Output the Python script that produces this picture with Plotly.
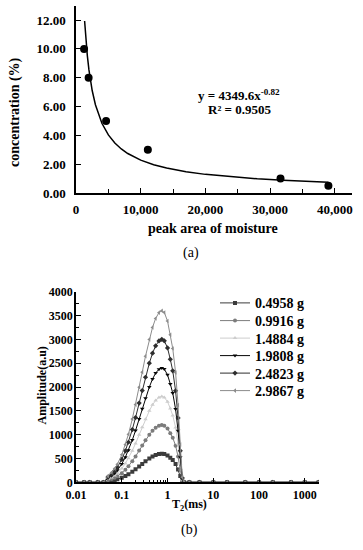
import plotly.graph_objects as go

# ---------------- (a) data ----------------
peak_area = [1250, 1950, 4650, 11100, 31600, 39000]
concentration = [10.0, 8.0, 5.0, 3.0, 1.0, 0.5]
fit_a = 4349.6
fit_b = -0.82
fit_x = [1330, 1500, 1750, 2000, 2500, 3000, 3500, 4000, 5000, 6000, 7000, 8000,
         10000, 12000, 14000, 17000, 20000, 24000, 28000, 32000, 36000, 39000]
fit_y = [fit_a * x ** fit_b for x in fit_x]
a_xticks = [0, 10000, 20000, 30000, 40000]
a_xlabels = ["0", "10,000", "20,000", "30,000", "40,000"]
a_yticks = [0, 2, 4, 6, 8, 10, 12]
a_ylabels = ["0.00", "2.00", "4.00", "6.00", "8.00", "10.00", "12.00"]

# ---------------- (b) data ----------------
t2 = [0.01, 0.015, 0.02, 0.03, 0.04, 0.05, 0.06, 0.07, 0.08, 0.1, 0.12, 0.14, 0.17, 0.2,
      0.24, 0.28, 0.33, 0.4, 0.47, 0.55, 0.65, 0.75, 0.85, 1.0, 1.15, 1.3, 1.5, 1.7,
      1.9, 2.1, 2.3, 3, 5, 10, 20, 50, 100, 200, 500, 1000, 2000]
lead0 = [0, 0, 0, 0, 0]
tail0 = [0, 0, 0, 0, 0, 0, 0, 0, 0, 0]
amp_04958 = lead0 + [22, 34, 48, 63, 96, 132, 168, 221, 272, 332, 385, 441, 500, 542, 573, 593, 600, 594, 564, 516, 468, 384, 270, 132, 18, 0] + tail0
amp_09916 = lead0 + [44, 68, 96, 126, 192, 264, 336, 443, 544, 665, 770, 882, 1000, 1084, 1146, 1187, 1200, 1188, 1128, 1032, 936, 768, 540, 264, 36, 0] + tail0
amp_14884 = lead0 + [67, 103, 144, 189, 288, 396, 504, 664, 815, 997, 1156, 1323, 1499, 1625, 1719, 1780, 1800, 1782, 1692, 1548, 1404, 1152, 810, 396, 54, 0] + tail0
amp_19808 = lead0 + [89, 137, 192, 252, 384, 528, 672, 886, 1087, 1330, 1541, 1764, 1999, 2167, 2292, 2374, 2400, 2376, 2256, 2064, 1872, 1536, 1080, 528, 72, 0] + tail0
amp_24823 = lead0 + [111, 171, 240, 315, 480, 660, 840, 1107, 1359, 1662, 1926, 2205, 2499, 2709, 2865, 2967, 3000, 2970, 2820, 2580, 2340, 1920, 1350, 660, 90, 0] + tail0
amp_29867 = lead0 + [133, 205, 288, 378, 576, 792, 1008, 1328, 1631, 1994, 2311, 2646, 2999, 3251, 3438, 3560, 3600, 3564, 3384, 3096, 2808, 2304, 1620, 792, 108, 0] + tail0
b_xticks = [0.01, 0.1, 1, 10, 100, 1000]
b_xlabels = ["0.01", "0.1", "1", "10", "100", "1000"]
b_yticks = [0, 500, 1000, 1500, 2000, 2500, 3000, 3500, 4000]

series_names = ["0.4958 g", "0.9916 g", "1.4884 g", "1.9808 g", "2.4823 g", "2.9867 g"]
series_vals = [amp_04958, amp_09916, amp_14884, amp_19808, amp_24823, amp_29867]
series_colors = ["#3c3c3c", "#7c7c7c", "#cdcdcd", "#050505", "#2e2e2e", "#8c8c8c"]
series_symbols = ["square", "circle", "triangle-up", "triangle-down", "diamond", "triangle-left"]

W, H = 363, 550
def px(x):
    return x / W
def py(y):
    return 1 - y / H

FONT = "Liberation Serif"

fig = go.Figure()

# (a)
fig.add_trace(go.Scatter(x=fit_x, y=fit_y, mode="lines", line=dict(color="black", width=1.5),
                         xaxis="x", yaxis="y", showlegend=False, hoverinfo="skip"))
fig.add_trace(go.Scatter(x=peak_area, y=concentration, mode="markers",
                         marker=dict(color="black", size=8), xaxis="x", yaxis="y", showlegend=False))

# (b) - each series in its own legend so the row spacing can match the reference
legend_ids = ["legend", "legend2", "legend3", "legend4", "legend5", "legend6"]
for name, vals, col, sym, lg in zip(series_names, series_vals, series_colors, series_symbols, legend_ids):
    fig.add_trace(go.Scatter(x=t2, y=vals, mode="lines+markers", name=f"<b>{name}</b>",
                             line=dict(color=col, width=1),
                             marker=dict(color=col, symbol=sym, size=4),
                             xaxis="x2", yaxis="y2", legend=lg))

def bold(lst):
    return [f"<b>{s}</b>" for s in lst]

axis_common = dict(showgrid=False, zeroline=False, showline=True, linecolor="black", linewidth=1.5,
                   ticks="inside", tickcolor="black", ticklen=5, tickwidth=1, automargin=False)

legend_rows = [303.3, 321.0, 338.5, 356.0, 373.5, 391.0]
legends = {}
for lg, row in zip(legend_ids, legend_rows):
    legends[lg] = dict(x=px(215), y=py(row), xanchor="left", yanchor="middle",
                       font=dict(family=FONT, size=14, color="black"),
                       itemwidth=30, bgcolor="rgba(0,0,0,0)", borderwidth=0)

fig.update_layout(
    template="none",
    width=W, height=H,
    margin=dict(l=0, r=0, t=0, b=0, pad=0),
    paper_bgcolor="white", plot_bgcolor="white",
    font=dict(family=FONT, color="black"),
    xaxis=dict(domain=[px(76), px(351.7)], range=[0, 42600], anchor="y",
               tickvals=a_xticks, ticktext=bold(a_xlabels),
               tickfont=dict(family=FONT, size=13, color="black"),
               minor=dict(dtick=5000, tick0=0, ticks="inside", ticklen=4, tickcolor="black"),
               ticklabelstandoff=4, **axis_common),
    yaxis=dict(domain=[py(193), py(5.7)], range=[0, 13], anchor="x",
               tickvals=a_yticks, ticktext=bold(a_ylabels),
               tickfont=dict(family=FONT, size=13, color="black"),
               ticklabelstandoff=6, **axis_common),
    xaxis2=dict(domain=[px(76), px(319)], type="log", range=[-2, 3.31], anchor="y2",
                tickvals=b_xticks, ticktext=bold(b_xlabels),
                tickfont=dict(family=FONT, size=12, color="black"),
                minor=dict(tickvals=[0.2, 0.3, 0.4, 0.5, 0.6, 0.7, 0.8, 0.9], ticks="inside",
                           ticklen=3, tickcolor="black"),
                ticklabelstandoff=1, **axis_common),
    yaxis2=dict(domain=[py(482.3), py(291.7)], range=[0, 4000], anchor="x2",
                tickvals=b_yticks, ticktext=bold([str(v) for v in b_yticks]),
                tickfont=dict(family=FONT, size=12, color="black"),
                minor=dict(dtick=250, ticks="inside", ticklen=3, tickcolor="black"),
                ticklabelstandoff=-1, **axis_common),
    showlegend=True,
    **legends,
)

ann = [
    dict(text="<b>concentration (%)</b>", x=px(15), y=py(112), textangle=-90, size=14),
    dict(text="<b>peak area of moisture</b>", x=px(213), y=py(228), size=14),
    dict(text="<b>y = 4349.6x<sup>-0.82</sup></b>", x=px(239), y=py(95), size=13),
    dict(text="<b>R² = 0.9505</b>", x=px(239), y=py(110), size=13),
    dict(text="(a)", x=px(191), y=py(253), size=14),
    dict(text="<b>Amplitude(a.u)</b>", x=px(41.5), y=py(386), textangle=-90, size=12),
    dict(text="<b>T<sub>2</sub>(ms)</b>", x=px(189), y=py(505), size=12),
    dict(text="(b)", x=px(189), y=py(530), size=14),
]
for a in ann:
    size = a.pop("size")
    fig.add_annotation(xref="paper", yref="paper", showarrow=False, xanchor="center", yanchor="middle",
                       font=dict(family=FONT, color="black", size=size), **a)

fig.write_html("out.html", config={"displayModeBar": False},
               post_script="document.body.style.margin='0px';")
